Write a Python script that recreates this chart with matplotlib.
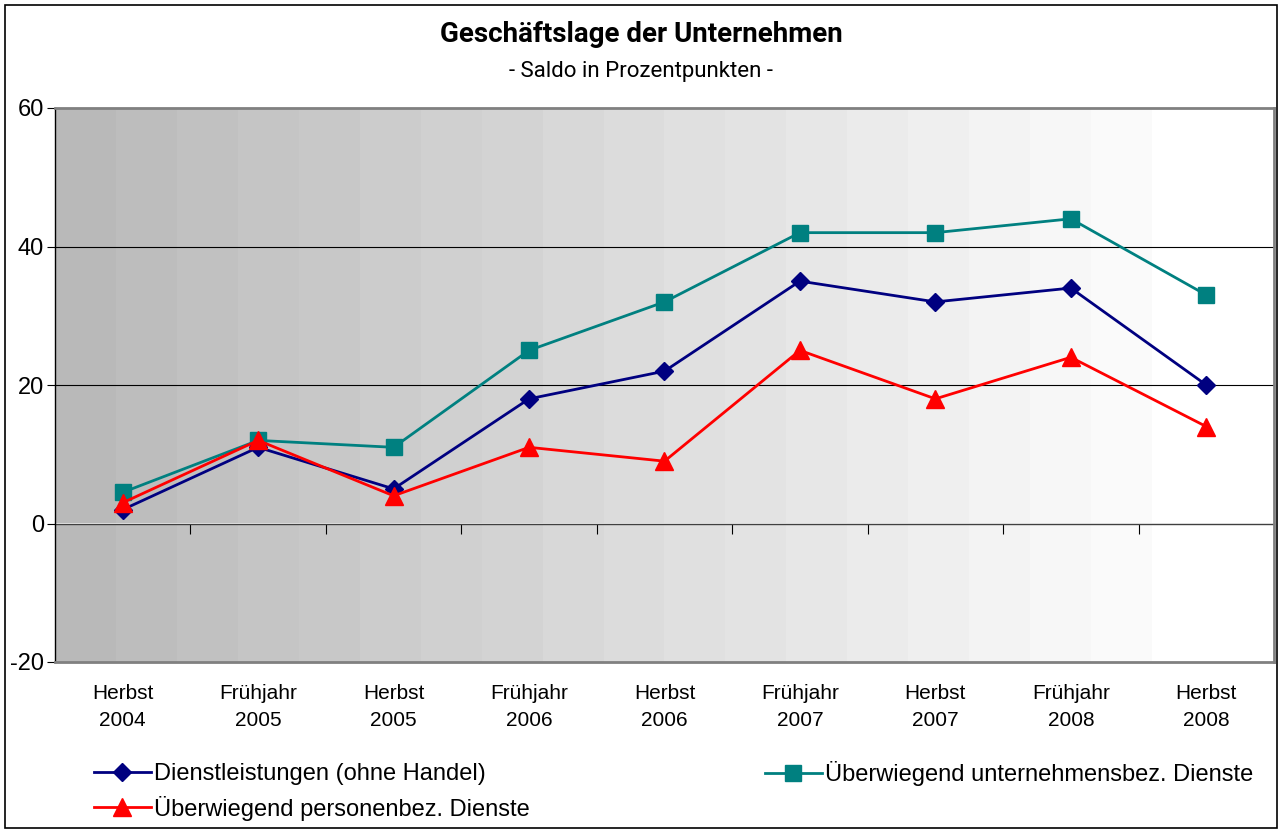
import numpy as np
import matplotlib.pyplot as plt
from matplotlib.patches import Rectangle

# data
periods = ['Herbst\n2004', 'Frühjahr\n2005', 'Herbst\n2005', 'Frühjahr\n2006', 'Herbst\n2006',
           'Frühjahr\n2007', 'Herbst\n2007', 'Frühjahr\n2008', 'Herbst\n2008']
dienst = [2, 11, 5, 18, 22, 35, 32, 34, 20]
unternehmen = [4.5, 12, 11, 25, 32, 42, 42, 44, 33]
personen = [3, 12, 4, 11, 9, 25, 18, 24, 14]

plt.rcParams['font.family'] = ['Liberation Sans', 'DejaVu Sans']
plt.rcParams['axes.unicode_minus'] = False

fig = plt.figure(figsize=(12.82, 8.30), dpi=100)
ax = fig.add_axes([55/1282, 1-662/830, (1274-55)/1282, (662-108)/830])

x = np.arange(len(periods))
ax.set_xlim(-0.5, len(periods)-0.5)
ax.set_ylim(-20, 60)

# banded grey gradient background, white at the far right
grad = np.append(np.linspace(0.725, 0.98, 18), [1.0, 1.0]).reshape(1, -1)
ax.imshow(grad, cmap='gray', vmin=0, vmax=1, aspect='auto',
          extent=(-0.5, len(periods)-0.5, -20, 60), zorder=0, interpolation='nearest')

for yv in (20, 40):
    ax.axhline(yv, color='black', lw=0.8, zorder=1)

ax.plot(x, dienst, color='#000080', lw=2, marker='D', ms=9, label='Dienstleistungen (ohne Handel)', zorder=4)
ax.plot(x, unternehmen, color='#008080', lw=2, marker='s', ms=12, label='Überwiegend unternehmensbez. Dienste', zorder=3)
ax.plot(x, personen, color='#ff0000', lw=2, marker='^', ms=13, label='Überwiegend personenbez. Dienste', zorder=5)

ax.set_yticks([-20, 0, 20, 40, 60])
ax.tick_params(axis='y', direction='out', length=6, labelsize=17, pad=2)
ax.set_xticks(x)
ax.set_xticklabels(periods, linespacing=1.55)
ax.tick_params(axis='x', length=0, labelsize=15, pad=16)
for s in ax.spines.values():
    s.set_color('#808080')
    s.set_linewidth(2)
ax.spines['left'].set_color('black')
ax.spines['left'].set_linewidth(1)

# zero axis with category tick marks
sec = ax.secondary_xaxis(0.25)
sec.set_xticks(np.arange(0.5, len(periods)-0.5, 1))
sec.set_xticklabels([])
sec.tick_params(direction='out', length=7, color='black')
sec.spines['bottom'].set_color('#404040')
sec.spines['bottom'].set_linewidth(1)

fig.text(0.5, 1-35/830, 'Geschäftslage der Unternehmen', ha='center', va='center',
         fontsize=20, fontweight='bold', family=['Roboto', 'DejaVu Sans'])
fig.text(0.5, 1-72/830, '- Saldo in Prozentpunkten -', ha='center', va='center',
         fontsize=16, family=['Roboto', 'DejaVu Sans'])

h, l = ax.get_legend_handles_labels()
fig.legend([h[0], h[2]], [l[0], l[2]], loc='upper left', bbox_to_anchor=(94/1282, 1-763/830),
           frameon=False, fontsize=17, handlelength=2.4, handletextpad=0.15,
           labelspacing=0.45, borderpad=0, borderaxespad=0)
fig.legend([h[1]], [l[1]], loc='upper left', bbox_to_anchor=(765/1282, 1-761/830),
           frameon=False, fontsize=17, handlelength=2.4, handletextpad=0.15,
           borderpad=0, borderaxespad=0)

fig.patches.append(Rectangle((5/1282, 2/830), 1272/1282, 823/830, transform=fig.transFigure,
                             fill=False, edgecolor='black', lw=1.2))

fig.savefig('out.png', dpi=100)
